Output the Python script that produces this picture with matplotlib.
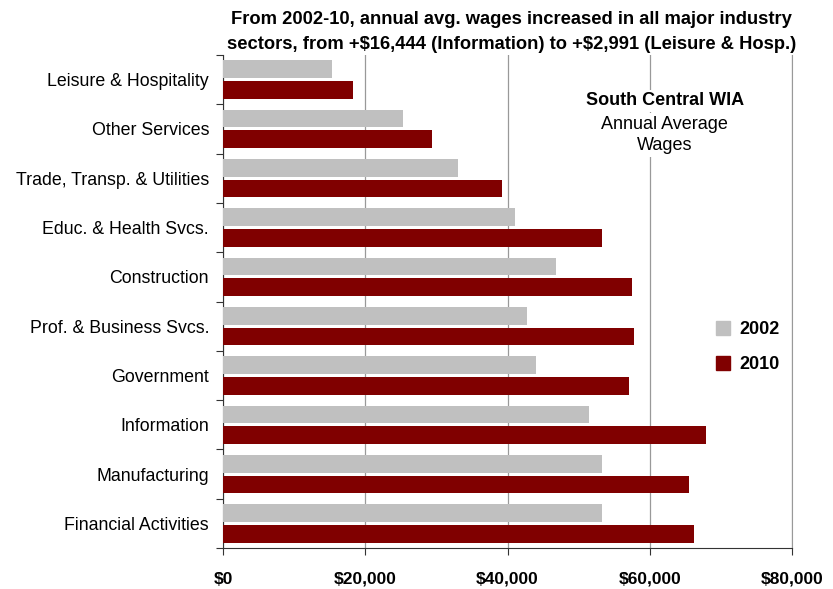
import matplotlib.pyplot as plt
from matplotlib.patches import Patch
from matplotlib.ticker import FuncFormatter
import numpy as np

plt.rcParams['font.family'] = ['Liberation Sans', 'DejaVu Sans']

sectors = ["Leisure & Hospitality", "Other Services", "Trade, Transp. & Utilities",
           "Educ. & Health Svcs.", "Construction", "Prof. & Business Svcs.",
           "Government", "Information", "Manufacturing", "Financial Activities"]
wages2002 = [15350, 25300, 33000, 41100, 46800, 42700, 44000, 51400, 53300, 53300]
wages2010 = [18341, 29450, 39200, 53300, 57500, 57800, 57100, 67844, 65500, 66200]
years = ["2002", "2010"]
colors = ["#C0C0C0", "#800000"]

fig = plt.figure(figsize=(8.33, 5.89), dpi=100)
ax = fig.add_axes([0.2677, 0.0696, 0.6831, 0.837])

y = np.arange(len(sectors))
h = 0.36
ax.barh(y - 0.21, wages2002, height=h, color=colors[0], zorder=3)
ax.barh(y + 0.21, wages2010, height=h, color=colors[1], zorder=3)

ax.set_xlim(0, 80000)
ax.set_ylim(len(sectors) - 0.5, -0.5)
ax.set_xticks([0, 20000, 40000, 60000, 80000])
ax.xaxis.set_major_formatter(FuncFormatter(lambda v, p: "${:,.0f}".format(v)))
ax.tick_params(axis="x", length=5, pad=12, color="#333333")
for lbl in ax.get_xticklabels():
    lbl.set_fontweight("bold")
    lbl.set_fontsize(12.5)
ax.grid(axis="x", color="#999999", linewidth=0.9, zorder=0)

ax.set_yticks(np.arange(len(sectors) + 1) - 0.5)
ax.set_yticklabels([])
ax.set_yticks(y, minor=True)
ax.set_yticklabels(sectors, minor=True, fontsize=12.8)
ax.tick_params(axis="y", which="major", length=5, color="#333333")
ax.tick_params(axis="y", which="minor", length=0, pad=10)

ax.spines["top"].set_visible(False)
ax.spines["right"].set_color("#999999")
ax.spines["left"].set_color("#333333")
ax.spines["bottom"].set_color("#333333")

fig.text(0.614, 0.982, "From 2002-10, annual avg. wages increased in all major industry\n"
         "sectors, from +\\$16,444 (Information) to +\\$2,991 (Leisure & Hosp.)",
         ha="center", va="top", fontsize=13.2, fontweight="bold", linespacing=1.62)

box = dict(facecolor="white", edgecolor="none", pad=2)
ax.text(62100, 0.43, "South Central WIA", ha="center", va="center", fontsize=13,
        fontweight="bold", zorder=4, bbox=box)
ax.text(62100, 1.12, "Annual Average\nWages", ha="center", va="center", fontsize=13,
        linespacing=1.3, zorder=4, bbox=box)

handles = [Patch(color=c) for c in colors]
fig.legend(handles, years, loc="center left", bbox_to_anchor=(0.84, 0.411),
           frameon=False, handlelength=0.8, handleheight=0.8, handletextpad=0.5,
           labelspacing=1.0, prop={"size": 13, "weight": "bold"})

fig.savefig("out.png", dpi=100)
